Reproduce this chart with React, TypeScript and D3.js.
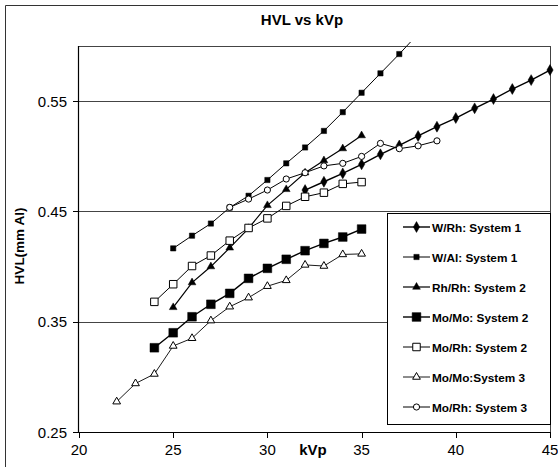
import React from "react";
import * as d3 from "d3";

const W = 558;
const H = 467;

const xTicks = [20, 25, 30, 35, 40, 45];
const yTicks = [0.25, 0.35, 0.45, 0.55];
const gridValues = [0.35, 0.45, 0.55];

const kvpWRh1 = [32, 33, 34, 35, 36, 37, 38, 39, 40, 41, 42, 43, 44, 45];
const hvlWRh1 = [0.4694, 0.4769, 0.4845, 0.4927, 0.5018, 0.5098, 0.5184, 0.5268, 0.5347, 0.5435, 0.5519, 0.561, 0.5691, 0.5782];

const kvpWAl1 = [25, 26, 27, 28, 29, 30, 31, 32, 33, 34, 35, 36, 37, 38];
const hvlWAl1 = [0.4165, 0.428, 0.439, 0.4535, 0.4642, 0.4785, 0.4936, 0.508, 0.523, 0.540, 0.5576, 0.5752, 0.5927, 0.611];

const kvpRhRh2 = [25, 26, 27, 28, 29, 30, 31, 32, 33, 34, 35];
const hvlRhRh2 = [0.363, 0.3855, 0.400, 0.417, 0.4347, 0.4555, 0.470, 0.4851, 0.4962, 0.507, 0.5188];

const kvpMoMo2 = [24, 25, 26, 27, 28, 29, 30, 31, 32, 33, 34, 35];
const hvlMoMo2 = [0.3264, 0.340, 0.3545, 0.3658, 0.3757, 0.3893, 0.3984, 0.4066, 0.4144, 0.421, 0.4268, 0.434];

const kvpMoRh2 = [24, 25, 26, 27, 28, 29, 30, 31, 32, 33, 34, 35];
const hvlMoRh2 = [0.368, 0.384, 0.4005, 0.410, 0.4235, 0.435, 0.4437, 0.455, 0.4633, 0.467, 0.475, 0.4766];

const kvpMoMo3 = [22, 23, 24, 25, 26, 27, 28, 29, 30, 31, 32, 33, 34, 35];
const hvlMoMo3 = [0.2775, 0.294, 0.3026, 0.328, 0.335, 0.351, 0.3636, 0.3718, 0.3822, 0.3875, 0.4015, 0.4005, 0.411, 0.4115];

const kvpMoRh3 = [28, 29, 30, 31, 32, 33, 34, 35, 36, 37, 38, 39];
const hvlMoRh3 = [0.4537, 0.4612, 0.4694, 0.4794, 0.4851, 0.4913, 0.4936, 0.4999, 0.5117, 0.5069, 0.5095, 0.514];

type Marker = { shape: d3.SymbolType; size: number; open: boolean };

const seriesNames = [
  "W/Rh: System 1",
  "W/Al: System 1",
  "Rh/Rh: System 2",
  "Mo/Mo: System 2",
  "Mo/Rh: System 2",
  "Mo/Mo:System 3",
  "Mo/Rh: System 3",
];

const series = [
  { name: seriesNames[0], k: kvpWRh1, v: hvlWRh1, m: { shape: d3.symbolDiamond, size: 34, open: false }, lw: 1.4 },
  { name: seriesNames[1], k: kvpWAl1, v: hvlWAl1, m: { shape: d3.symbolSquare, size: 28, open: false }, lw: 1 },
  { name: seriesNames[2], k: kvpRhRh2, v: hvlRhRh2, m: { shape: d3.symbolTriangle, size: 26, open: false }, lw: 1.2 },
  { name: seriesNames[3], k: kvpMoMo2, v: hvlMoMo2, m: { shape: d3.symbolSquare, size: 76, open: false }, lw: 1.4 },
  { name: seriesNames[4], k: kvpMoRh2, v: hvlMoRh2, m: { shape: d3.symbolSquare, size: 56, open: true }, lw: 1 },
  { name: seriesNames[5], k: kvpMoMo3, v: hvlMoMo3, m: { shape: d3.symbolTriangle, size: 26, open: true }, lw: 0.9 },
  { name: seriesNames[6], k: kvpMoRh3, v: hvlMoRh3, m: { shape: d3.symbolCircle, size: 30, open: true }, lw: 1 },
];

const FONT = "'Liberation Sans', Arial, Helvetica, sans-serif";

export default function App() {
  const x = d3.scaleLinear().domain([20, 45]).range([79, 550]);
  const y = d3.scaleLinear().domain([0.25, 0.6]).range([432, 46]);
  const [x0, x1] = x.range();
  const [yb, yt] = y.range();

  const line = d3
    .line<[number, number]>()
    .x((d) => x(d[0]))
    .y((d) => y(d[1]));

  const sym = (m: Marker) => d3.symbol().type(m.shape).size(m.size)() || "";

  const legX = 387;
  const legY = 213;
  const legW = 163;
  const legH = 211;
  const legRow0 = 227;
  const legStep = 30;

  return (
    <svg
      width={W}
      height={H}
      style={{ position: "absolute", left: 0, top: 0, background: "#fff" }}
      fontFamily={FONT}
    >
      <defs>
        <clipPath id="plotclip">
          <rect x={x0} y={42} width={x1 - x0 + 6} height={yb - 42 + 6} />
        </clipPath>
      </defs>
      <rect x={0} y={0} width={W} height={H} fill="#fff" />
      {/* outer chart border */}
      <line x1={5.5} y1={5.5} x2={W} y2={5.5} stroke="#333" strokeWidth={1} />
      <line x1={5.5} y1={5.5} x2={5.5} y2={H} stroke="#333" strokeWidth={1} />

      {/* title */}
      <text x={302} y={25} textAnchor="middle" fontSize={15} fontWeight="bold">
        HVL vs kVp
      </text>

      {/* gridlines */}
      {gridValues.map((g) => (
        <line key={g} x1={x0} x2={x1} y1={Math.round(y(g)) + 0.5} y2={Math.round(y(g)) + 0.5} stroke="#444" strokeWidth={1} />
      ))}
      {/* plot frame top/right */}
      <line x1={x0} x2={x1} y1={yt + 0.5} y2={yt + 0.5} stroke="#444" strokeWidth={1} />
      <line x1={x1 + 0.5} x2={x1 + 0.5} y1={yt} y2={yb} stroke="#444" strokeWidth={1} />

      {/* axes */}
      <line x1={x0 - 0.5} x2={x0 - 0.5} y1={yt} y2={yb} stroke="#000" strokeWidth={1.2} />
      <line x1={x0} x2={x1 + 1} y1={yb + 0.5} y2={yb + 0.5} stroke="#000" strokeWidth={1.2} />

      {yTicks.map((t) => (
        <g key={t}>
          <line x1={x0 - 6} x2={x0} y1={Math.round(y(t)) + 0.5} y2={Math.round(y(t)) + 0.5} stroke="#000" />
          <text x={x0 - 12} y={y(t) + 5.5} textAnchor="end" fontSize={15}>
            {t.toFixed(2)}
          </text>
        </g>
      ))}
      {xTicks.map((t) => (
        <g key={t}>
          <line x1={Math.round(x(t)) + 0.5} x2={Math.round(x(t)) + 0.5} y1={yb} y2={yb + 6} stroke="#000" />
          <text x={x(t)} y={455} textAnchor="middle" fontSize={15}>
            {t}
          </text>
        </g>
      ))}

      {/* axis titles */}
      <text x={313} y={455} textAnchor="middle" fontSize={15} fontWeight="bold">
        kVp
      </text>
      <text
        transform={`translate(24, 246) rotate(-90)`}
        textAnchor="middle"
        fontSize={13.5}
        fontWeight="bold"
      >
        HVL(mm Al)
      </text>

      {/* series */}
      <g clipPath="url(#plotclip)">
        {series.map((s) => {
          const pts: [number, number][] = s.k.map((k, i) => [k, s.v[i]]);
          return (
            <g key={s.name}>
              <path d={line(pts) || ""} fill="none" stroke="#000" strokeWidth={s.lw} />
              {pts.map((p, i) => (
                <path
                  key={i}
                  d={sym(s.m)}
                  transform={`translate(${x(p[0])},${y(p[1])})`}
                  fill={s.m.open ? "#fff" : "#000"}
                  stroke="#000"
                  strokeWidth={s.m.open ? 1 : 0.5}
                />
              ))}
            </g>
          );
        })}
      </g>

      {/* legend */}
      <rect x={legX + 0.5} y={legY + 0.5} width={legW} height={legH} fill="#fff" stroke="#000" strokeWidth={1} />
      {series.map((s, i) => {
        const ly = legRow0 + i * legStep;
        return (
          <g key={s.name}>
            <line x1={403} x2={430} y1={ly} y2={ly} stroke="#000" strokeWidth={s.lw} />
            <path
              d={sym(s.m)}
              transform={`translate(416.5,${ly})`}
              fill={s.m.open ? "#fff" : "#000"}
              stroke="#000"
              strokeWidth={s.m.open ? 1 : 0.5}
            />
            <text x={432} y={ly + 4.5} fontSize={11.8} fontWeight="bold">
              {s.name}
            </text>
          </g>
        );
      })}
    </svg>
  );
}
